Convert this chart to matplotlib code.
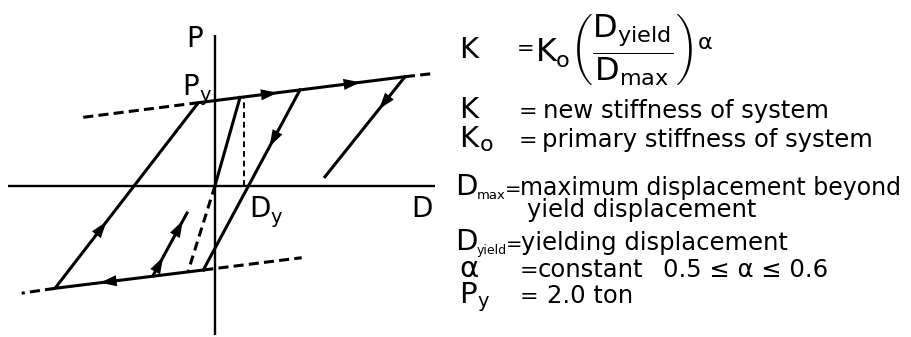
import math
import matplotlib
matplotlib.use("Agg")
import matplotlib.pyplot as plt
from matplotlib.patches import FancyArrowPatch

plt.rcParams['font.family'] = ['DejaVu Sans']
plt.rcParams['mathtext.fontset'] = 'custom'
plt.rcParams['mathtext.rm'] = 'DejaVu Sans'
plt.rcParams['mathtext.it'] = 'DejaVu Sans'
plt.rcParams['mathtext.bf'] = 'DejaVu Sans:bold'

# hysteresis loop in drawing units, origin where the D and P axes cross
loop_D = [-1.17, -16.0, -1.67, 19.0]
loop_P = [-8.43, -10.26, 8.30, 10.90]
peak_unload_D = [19.0, 11.0]
peak_unload_P = [10.90, 0.90]
mid_unload_D = [8.5, -1.17]
mid_unload_P = [9.58, -8.43]
elastic_D = [0.0, 2.5]
elastic_P = [0.0, 8.82]
elastic_ext_D = [0.0, -2.67]
elastic_ext_P = [0.0, -8.5]
dy_D = [2.93, 2.93]
dy_P = [0.0, 8.88]
reload_D = [-6.2, -2.8]
reload_P = [-9.0, -2.73]
# dashed continuations of the two yield lines
yield_ext_D = [[-13.17, -1.67], [19.0, 22.0], [-1.17, 8.67], [-16.0, -19.33]]
yield_ext_P = [[6.84, 8.30], [10.90, 11.24], [-8.43, -7.20], [-10.26, -10.75]]

# legend text: (label, subscript, description)
legend_rows = [
    ("K", "", "new stiffness of system"),
    ("K", "o", "primary stiffness of system"),
    ("D", "max", "maximum displacement beyond"),
    ("", "", "yield displacement"),
    ("D", "yield", "yielding displacement"),
    ("\u03b1", "", "constant"),
    ("P", "y", "2.0 ton"),
]
alpha_range = "0.5 \u2264 \u03b1 \u2264 0.6"
formula = r"$K_o\left(\dfrac{D_{yield}}{D_{max}}\right)^{\alpha}$"

fig = plt.figure(figsize=(9.11, 3.37), dpi=100)

ax = fig.add_axes([0, 0, 440 / 911, 1])
ax.set_xlim(-21.5, 22.5)
ax.set_ylim(-15.13, 18.57)
ax.axis('off')

LW = 2.2
DASH = (0, (3.3, 1.7))

# axes
ax.plot([-20.7, 22.0], [0, 0], color='k', lw=1.7, solid_capstyle='butt')
ax.plot([0, 0], [-14.93, 15.07], color='k', lw=1.7, solid_capstyle='butt')

ax.plot(loop_D, loop_P, color='k', lw=LW, solid_joinstyle='miter')
ax.plot(peak_unload_D, peak_unload_P, color='k', lw=LW)
ax.plot(mid_unload_D, mid_unload_P, color='k', lw=LW)
ax.plot(elastic_D, elastic_P, color='k', lw=LW)
ax.plot(reload_D, reload_P, color='k', lw=LW)
ax.plot(elastic_ext_D, elastic_ext_P, color='k', lw=LW, ls=(0, (3.0, 1.8)))
ax.plot(dy_D, dy_P, color='k', lw=1.4, ls=(0, (3.0, 2.0)))
for xs, ys in zip(yield_ext_D, yield_ext_P):
    ax.plot(xs, ys, color='k', lw=LW, ls=DASH)


def arrow_on(xs, ys, i, t):
    x0, y0, x1, y1 = xs[i], ys[i], xs[i + 1], ys[i + 1]
    cx, cy = x0 + t * (x1 - x0), y0 + t * (y1 - y0)
    n = math.hypot(x1 - x0, y1 - y0)
    ux, uy = (x1 - x0) / n * 0.7, (y1 - y0) / n * 0.7
    ax.add_patch(FancyArrowPatch((cx - ux, cy - uy), (cx + ux, cy + uy),
                                 arrowstyle='-|>,head_length=0.6,head_width=0.2',
                                 mutation_scale=20, color='k', lw=0,
                                 shrinkA=0, shrinkB=0))


arrow_on(loop_D, loop_P, 2, 0.35)
arrow_on(loop_D, loop_P, 2, 0.75)
arrow_on(loop_D, loop_P, 1, 0.33)
arrow_on(loop_D, loop_P, 0, 0.65)
arrow_on(peak_unload_D, peak_unload_P, 0, 0.27)
arrow_on(mid_unload_D, mid_unload_P, 0, 0.28)
arrow_on(reload_D, reload_P, 0, 0.2)
arrow_on(reload_D, reload_P, 0, 0.78)

# text layer in pixel coordinates
tx = fig.add_axes([0, 0, 1, 1])
tx.set_xlim(0, 911)
tx.set_ylim(337, 0)
tx.axis('off')

tx.text(186, 47, "P", fontsize=20, va='baseline')
tx.text(182, 95, "P", fontsize=20, va='baseline')
tx.text(199, 101, "y", fontsize=14, va='baseline')
tx.text(249, 217, "D", fontsize=20, va='baseline')
tx.text(270, 223, "y", fontsize=14, va='baseline')
tx.text(411, 217, "D", fontsize=20, va='baseline')

# formula line
tx.text(459, 58, "K", fontsize=21, va='baseline')
tx.text(517, 55, "=", fontsize=15, va='baseline')
tx.text(535, 50, formula, fontsize=23, va='center')

row_base = [118, 147, 195, 217, 250, 277, 303]
row_eq = [519, 519, 505, None, 506, 520, 520]
row_eq_size = [16, 16, 14, 0, 14, 16, 16]
row_desc = [543, 542, 520, 527, 521, 538, 547]
row_sub_x = [0, 480, 477, 0, 477, 0, 477]
row_sub_size = [0, 16, 9.5, 0, 9, 0, 14]
for (lab, sub, desc), yb, xe, es, xd, xs_, ss in zip(
        legend_rows, row_base, row_eq, row_eq_size, row_desc, row_sub_x, row_sub_size):
    if lab:
        tx.text(455 if lab == "D" else 459, yb, lab, fontsize=21, va='baseline')
    if sub:
        tx.text(xs_, yb + 4, sub, fontsize=ss, va='baseline')
    if xe is not None:
        tx.text(xe, yb, "=", fontsize=es, va='baseline')
    tx.text(xd, yb, desc, fontsize=17 if sub == "max" else 17.5, va='baseline')

tx.text(663, 277, alpha_range, fontsize=17.5, va='baseline')

fig.savefig("out.png", dpi=100)
